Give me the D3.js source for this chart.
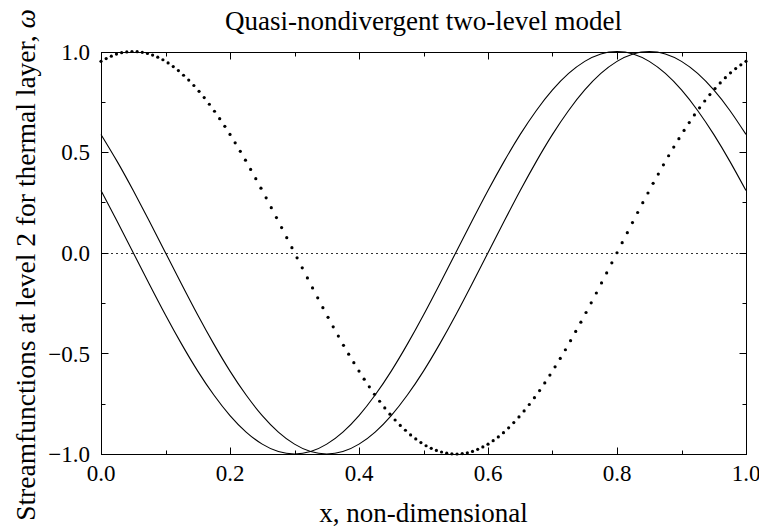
<!DOCTYPE html>
<html>
<head>
<meta charset="utf-8">
<script src="https://cdn.jsdelivr.net/npm/d3@7"></script>
<style>
  body { margin: 0; background: #fff; }
  #chart { width: 759px; height: 527px; }
</style>
</head>
<body>
<div id="chart"></div>
<script>
// x grid of the dotted (sampled) curve: step 0.008 from 0 to 1
const dotStep = 0.008;
const dotValues = [0.951,0.965,0.977,0.987,0.994,0.998,1.000,0.999,0.996,0.990,
  0.982,0.972,0.959,0.943,0.925,0.905,0.882,0.858,0.831,0.802,
  0.771,0.738,0.703,0.666,0.628,0.588,0.546,0.504,0.460,0.414,
  0.368,0.321,0.273,0.224,0.175,0.125,0.075,0.025,
  -0.025,-0.075,-0.125,-0.175,-0.224,-0.273,-0.321,-0.368,-0.414,-0.460,
  -0.504,-0.546,-0.588,-0.628,-0.666,-0.703,-0.738,-0.771,-0.802,-0.831,
  -0.858,-0.882,-0.905,-0.925,-0.943,-0.959,-0.972,-0.982,-0.990,-0.996,
  -0.999,-1.000,-0.998,-0.994,-0.987,-0.977,-0.965,-0.951,
  -0.934,-0.915,-0.894,-0.870,-0.844,-0.816,-0.786,-0.754,-0.720,-0.685,
  -0.647,-0.608,-0.567,-0.525,-0.482,-0.437,-0.391,-0.345,-0.297,-0.249,
  -0.200,-0.150,-0.100,-0.050,0.000,0.050,0.100,0.150,0.200,0.249,
  0.297,0.345,0.391,0.437,0.482,0.525,0.567,0.608,0.647,0.685,
  0.720,0.754,0.786,0.816,0.844,0.870,0.894,0.915,0.934,0.951];

// solid curves, sampled every 0.025
const lineStep = 0.025;
const solidA = [0.588,0.454,0.309,0.156,0,-0.156,-0.309,-0.454,-0.588,-0.707,
  -0.809,-0.891,-0.951,-0.988,-1,-0.988,-0.951,-0.891,-0.809,-0.707,
  -0.588,-0.454,-0.309,-0.156,0,0.156,0.309,0.454,0.588,0.707,
  0.809,0.891,0.951,0.988,1,0.988,0.951,0.891,0.809,0.707,0.588];
const solidB = [0.309,0.156,0,-0.156,-0.309,-0.454,-0.588,-0.707,-0.809,-0.891,
  -0.951,-0.988,-1,-0.988,-0.951,-0.891,-0.809,-0.707,-0.588,-0.454,
  -0.309,-0.156,0,0.156,0.309,0.454,0.588,0.707,0.809,0.891,
  0.951,0.988,1,0.988,0.951,0.891,0.809,0.707,0.588,0.454,0.309];

const xMajor = [0, 0.2, 0.4, 0.6, 0.8, 1.0];
const xMinor = [0.1, 0.3, 0.5, 0.7, 0.9];
const yMajor = [-1.0, -0.5, 0.0, 0.5, 1.0];
const yMinor = [-0.75, -0.25, 0.25, 0.75];

const titleText = "Quasi-nondivergent two-level model";
const xLabel = "x, non-dimensional";
const yLabel = "Streamfunctions at level 2 for thermal layer, ";

const W = 759, H = 527;
const margin = {left: 101, right: 13, top: 51.5, bottom: 73};
const FONT = "'Liberation Serif', 'Times New Roman', Tinos, 'DejaVu Serif', serif";

const svg = d3.select("#chart").append("svg")
  .attr("width", W)
  .attr("height", H)
  .attr("font-family", FONT)
  .style("font-family", FONT);

const x = d3.scaleLinear().domain([0, 1]).range([margin.left, W - margin.right]);
const y = d3.scaleLinear().domain([-1, 1]).range([H - margin.bottom, margin.top]);

// zero line (dotted)
svg.append("line")
  .attr("x1", x(0)).attr("x2", x(1))
  .attr("y1", Math.round(y(0)) + 0.5).attr("y2", Math.round(y(0)) + 0.5)
  .attr("stroke", "#333")
  .attr("stroke-width", 1)
  .attr("stroke-dasharray", "2,3");

// solid curves
const line = d3.line()
  .x((d, i) => x(i * lineStep))
  .y(d => y(d))
  .curve(d3.curveNatural);

[solidA, solidB].forEach(s => {
  svg.append("path")
    .datum(s)
    .attr("d", line)
    .attr("fill", "none")
    .attr("stroke", "#000")
    .attr("stroke-width", 1.1);
});

// dotted curve
svg.selectAll("circle.dot")
  .data(dotValues)
  .enter().append("circle")
    .attr("class", "dot")
    .attr("cx", (d, i) => x(i * dotStep))
    .attr("cy", d => y(d))
    .attr("r", 1.6)
    .attr("fill", "#000");

// frame
const x0 = Math.round(x(0)) + 0.5, x1 = Math.round(x(1)) + 0.5;
const y0 = Math.round(y(1)) + 0.5, y1 = Math.round(y(-1)) + 0.5;
svg.append("rect")
  .attr("x", x0).attr("y", y0)
  .attr("width", x1 - x0).attr("height", y1 - y0)
  .attr("fill", "none")
  .attr("stroke", "#000")
  .attr("stroke-width", 1);

// inward ticks on all four sides
const majorLen = 7, minorLen = 4;
function xTicks(vals, len){
  vals.forEach(v => {
    const px = Math.round(x(v)) + 0.5;
    svg.append("line").attr("x1", px).attr("x2", px).attr("y1", y1).attr("y2", y1 - len).attr("stroke", "#000");
    svg.append("line").attr("x1", px).attr("x2", px).attr("y1", y0).attr("y2", y0 + len).attr("stroke", "#000");
  });
}
function yTicks(vals, len){
  vals.forEach(v => {
    const py = Math.round(y(v)) + 0.5;
    svg.append("line").attr("x1", x0).attr("x2", x0 + len).attr("y1", py).attr("y2", py).attr("stroke", "#000");
    svg.append("line").attr("x1", x1).attr("x2", x1 - len).attr("y1", py).attr("y2", py).attr("stroke", "#000");
  });
}
xTicks(xMajor, majorLen); xTicks(xMinor, minorLen);
yTicks(yMajor, majorLen); yTicks(yMinor, minorLen);

// tick labels
svg.selectAll("text.xt")
  .data(xMajor)
  .enter().append("text")
    .attr("class", "xt")
    .attr("x", d => x(d))
    .attr("y", 481)
    .attr("text-anchor", "middle")
    .style("font-family", FONT)
    .style("font-size", "23px")
    .text(d => d3.format(".1f")(d));

svg.selectAll("text.yt")
  .data(yMajor)
  .enter().append("text")
    .attr("class", "yt")
    .attr("x", 90)
    .attr("y", d => y(d))
    .attr("dy", "0.36em")
    .attr("text-anchor", "end")
    .style("font-family", FONT)
    .style("font-size", "23px")
    .text(d => d3.format(".1f")(d));

// title and axis labels
svg.append("text")
  .attr("x", (x(0) + x(1)) / 2)
  .attr("y", 30)
  .attr("text-anchor", "middle")
  .style("font-family", FONT)
  .style("font-size", "27px")
  .text(titleText);

svg.append("text")
  .attr("x", (x(0) + x(1)) / 2)
  .attr("y", 522)
  .attr("text-anchor", "middle")
  .style("font-family", FONT)
  .style("font-size", "27px")
  .text(xLabel);

const yl = svg.append("text")
  .attr("transform", "translate(35,265) rotate(-90)")
  .attr("text-anchor", "middle")
  .style("font-family", FONT)
  .style("font-size", "27.5px")
  .text(yLabel);
yl.append("tspan").style("font-style", "italic").text("ω");
</script>
</body>
</html>
